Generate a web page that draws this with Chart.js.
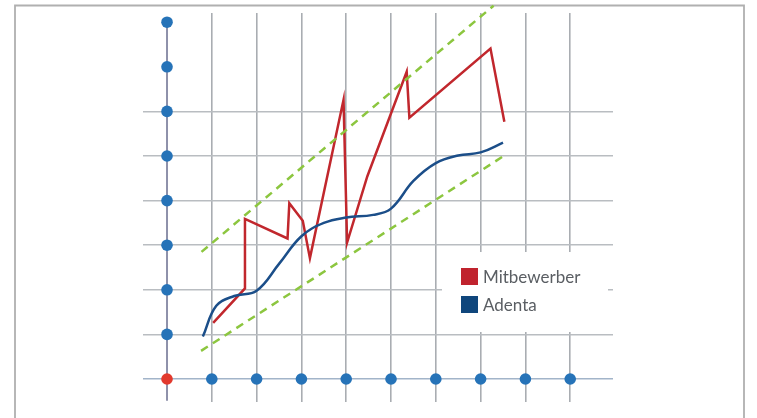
<!DOCTYPE html>
<html><head><meta charset="utf-8">
<script src="https://cdn.jsdelivr.net/npm/chart.js@4/dist/chart.umd.min.js"></script>
<style>html,body{margin:0;padding:0;background:#fff}#wrap{width:757px;height:418px;position:relative}</style>
</head><body><div id="wrap"><canvas id="c" width="757" height="418"></canvas></div>
<script>
// ---- data ----
const seriesNames = ['Mitbewerber', 'Adenta'];
const mitbewerberX = [1.03, 1.74, 1.74, 2.69, 2.73, 3.03, 3.19, 3.94, 4.02, 4.47, 5.35, 5.41, 7.22, 7.53];
const mitbewerberY = [1.26, 2.03, 3.59, 3.15, 3.94, 3.55, 2.71, 6.26, 3.06, 4.54, 6.89, 5.86, 7.41, 5.77];
const adentaX = [0.80, 1.10, 1.50, 2.00, 2.50, 3.00, 3.50, 4.00, 4.60, 5.00, 5.50, 6.00, 6.50, 7.00, 7.50];
const adentaY = [0.95, 1.64, 1.86, 1.98, 2.58, 3.20, 3.50, 3.62, 3.68, 3.82, 4.44, 4.84, 5.01, 5.08, 5.30];
const trendUpperX = [0.77, 7.29];
const trendUpperY = [2.85, 8.37];
const trendLowerX = [0.76, 7.53];
const trendLowerY = [0.63, 5.01];
const xTickValues = [0, 1, 2, 3, 4, 5, 6, 7, 8, 9];
const yTickValues = [0, 1, 2, 3, 4, 5, 6, 7, 8];
const yGridShown = [0, 1, 2, 3, 4, 5, 6];
const xAxisDots = [1, 2, 3, 4, 5, 6, 7, 8, 9];
const yAxisDots = [1, 2, 3, 4, 5, 6, 7, 8];
const origin = [0, 0];
const yAxisSpan = [-0.49, 8];

const pts = (xs, ys) => xs.map((x, i) => ({ x: x, y: ys[i] }));

const frame = {
  id: 'frame',
  beforeDraw(chart) {
    const c = chart.ctx;
    c.save();
    c.strokeStyle = '#b0b0b0';
    c.lineWidth = 1.8;
    c.beginPath();
    c.moveTo(15, 418); c.lineTo(15, 5.5); c.lineTo(744, 5.5); c.lineTo(744, 418);
    c.stroke();
    c.restore();
  }
};

const legendBox = {
  id: 'legendBox',
  beforeDatasetsDraw(chart) {
    const c = chart.ctx;
    c.save();
    c.fillStyle = '#ffffff';
    c.fillRect(442, 252, 166, 80);
    const items = chart.data.datasets.filter(d => d.legendColor);
    items.sort((a, b) => seriesNames.indexOf(a.label) - seriesNames.indexOf(b.label));
    c.font = '17px Lato';
    c.textBaseline = 'alphabetic';
    items.forEach((d, i) => {
      const y = 268 + i * 28;
      c.fillStyle = d.legendColor;
      c.fillRect(461, y, 17, 17);
      c.fillStyle = '#5a5e63';
      c.fillText(d.label, 483, y + 14.5);
    });
    c.restore();
  }
};

new Chart(document.getElementById('c'), {
  type: 'scatter',
  data: {
    datasets: [
      { label: 'dots', data: xAxisDots.map(v => ({ x: v, y: 0 })).concat(yAxisDots.map(v => ({ x: 0, y: v }))),
        showLine: false, pointRadius: 5.8, pointBackgroundColor: '#2673b8', pointBorderWidth: 0, order: 0 },
      { label: 'origin', data: [{ x: origin[0], y: origin[1] }], showLine: false, pointRadius: 5.8,
        pointBackgroundColor: '#e2392d', pointBorderWidth: 0, order: 0 },
      { label: 'trendUpper', data: pts(trendUpperX, trendUpperY), showLine: true, borderColor: '#8cc63f',
        borderWidth: 2.5, borderDash: [8, 6], pointRadius: 0, clip: false, order: 1 },
      { label: 'trendLower', data: pts(trendLowerX, trendLowerY), showLine: true, borderColor: '#8cc63f',
        borderWidth: 2.5, borderDash: [8, 6], pointRadius: 0, order: 1 },
      { label: seriesNames[0], legendColor: '#c0232e', data: pts(mitbewerberX, mitbewerberY), showLine: true,
        borderColor: '#c1272d', borderWidth: 2.5, pointRadius: 0, tension: 0, order: 3 },
      { label: seriesNames[1], legendColor: '#0f467c', data: pts(adentaX, adentaY), showLine: true,
        borderColor: '#1b4e89', borderWidth: 2.5, pointRadius: 0, tension: 0.4, order: 2 },
      { label: 'yAxis', data: yAxisSpan.map(v => ({ x: 0, y: v })), showLine: true, borderColor: '#8e91aa',
        borderWidth: 2, pointRadius: 0, order: 9 }
    ]
  },
  options: {
    responsive: false,
    animation: false,
    devicePixelRatio: 1,
    layout: { padding: { left: 143, right: 144, top: 13, bottom: 16 } },
    plugins: { legend: { display: false }, tooltip: { enabled: false } },
    scales: {
      x: {
        type: 'linear', min: -0.536, max: 9.955,
        afterBuildTicks: s => { s.ticks = xTickValues.map(v => ({ value: v })); },
        ticks: { display: false }, border: { display: false },
        grid: { drawTicks: false, lineWidth: 1.6,
          color: ctx => (ctx.tick && ctx.tick.value === 0) ? 'rgba(0,0,0,0)' : '#a9adb2' }
      },
      y: {
        type: 'linear', min: -0.516, max: 8.206,
        afterBuildTicks: s => { s.ticks = yTickValues.map(v => ({ value: v })); },
        ticks: { display: false }, border: { display: false },
        grid: { drawTicks: false, lineWidth: 1.6,
          color: ctx => {
            const v = ctx.tick ? ctx.tick.value : null;
            if (v === 0) return '#a2b4c9';
            return yGridShown.includes(v) ? '#b9bdc1' : 'rgba(0,0,0,0)';
          } }
      }
    }
  },
  plugins: [frame, legendBox]
});
</script>
</body></html>
